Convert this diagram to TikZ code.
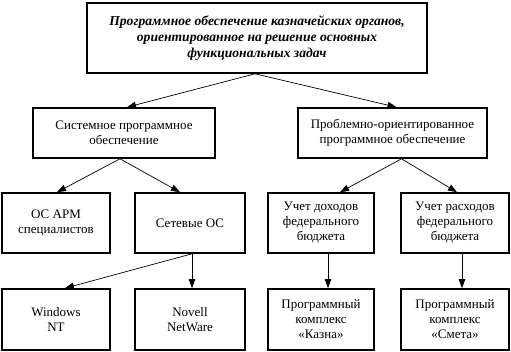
\documentclass[tikz,border=0pt]{standalone}
\usepackage{fontspec}
\setmainfont{Liberation Serif}
\usetikzlibrary{arrows.meta}
\begin{document}
\begin{tikzpicture}[x=1pt,y=-1pt,
  box/.style={draw=black,line width=1.6pt,rectangle,inner sep=0pt,align=center,
    font=\fontsize{13}{15}\selectfont},
  topbox/.style={box,font=\fontsize{13.6}{16}\selectfont\bfseries\itshape},
  conn/.style={draw=black,line width=0.7pt,-{Triangle[length=9pt,width=6.5pt]}}]
\useasboundingbox (0,0) rectangle (511,352);
\node[topbox,minimum width=340pt,minimum height=70pt] (top) at (257,38)
  {Программное обеспечение казначейских органов,\\ориентированное на решение основных\\функциональных задач};
\node[box,minimum width=182pt,minimum height=50pt] (sys) at (124,133)
  {Системное программное\\обеспечение};
\node[box,minimum width=189pt,minimum height=50pt] (prob) at (392.5,133)
  {Проблемно-ориентированное\\программное обеспечение};
\node[box,minimum width=108pt,minimum height=60pt] (arm) at (56,223)
  {ОС АРМ\\специалистов};
\node[box,minimum width=110pt,minimum height=60pt] (net) at (190,223)
  {Сетевые ОС};
\node[box,minimum width=106pt,minimum height=60pt] (doh) at (321,223)
  {Учет доходов\\федерального\\бюджета};
\node[box,minimum width=108pt,minimum height=60pt] (ras) at (455,223)
  {Учет расходов\\федерального\\бюджета};
\node[box,minimum width=108pt,minimum height=61pt] (win) at (56,319.5)
  {Windows\\NT};
\node[box,minimum width=110pt,minimum height=61pt] (nov) at (190,319.5)
  {Novell\\NetWare};
\node[box,minimum width=106pt,minimum height=61pt] (kaz) at (321,319.5)
  {Программный\\комплекс\\«Казна»};
\node[box,minimum width=108pt,minimum height=61pt] (sme) at (455,319.5)
  {Программный\\комплекс\\«Смета»};
\draw[conn] ([xshift=-2pt]top.south) -- ([xshift=3pt]sys.north);
\draw[conn] ([xshift=-2pt]top.south) -- ([xshift=4pt]prob.north);
\draw[conn] ([xshift=-4pt]sys.south) -- ([xshift=1pt]arm.north);
\draw[conn] ([xshift=-4pt]sys.south) -- ([xshift=-10pt]net.north);
\draw[conn] ([xshift=9pt]prob.south) -- ([xshift=19pt]doh.north);
\draw[conn] ([xshift=9pt]prob.south) -- ([xshift=2pt]ras.north);
\draw[conn] ([xshift=2pt]net.south) -- ([xshift=9pt]win.north);
\draw[conn] ([xshift=2pt]net.south) -- ([xshift=2pt]nov.north);
\draw[conn] ([xshift=7pt]doh.south) -- ([xshift=7pt]kaz.north);
\draw[conn] ([xshift=7pt]ras.south) -- ([xshift=7pt]sme.north);
\end{tikzpicture}
\end{document}
